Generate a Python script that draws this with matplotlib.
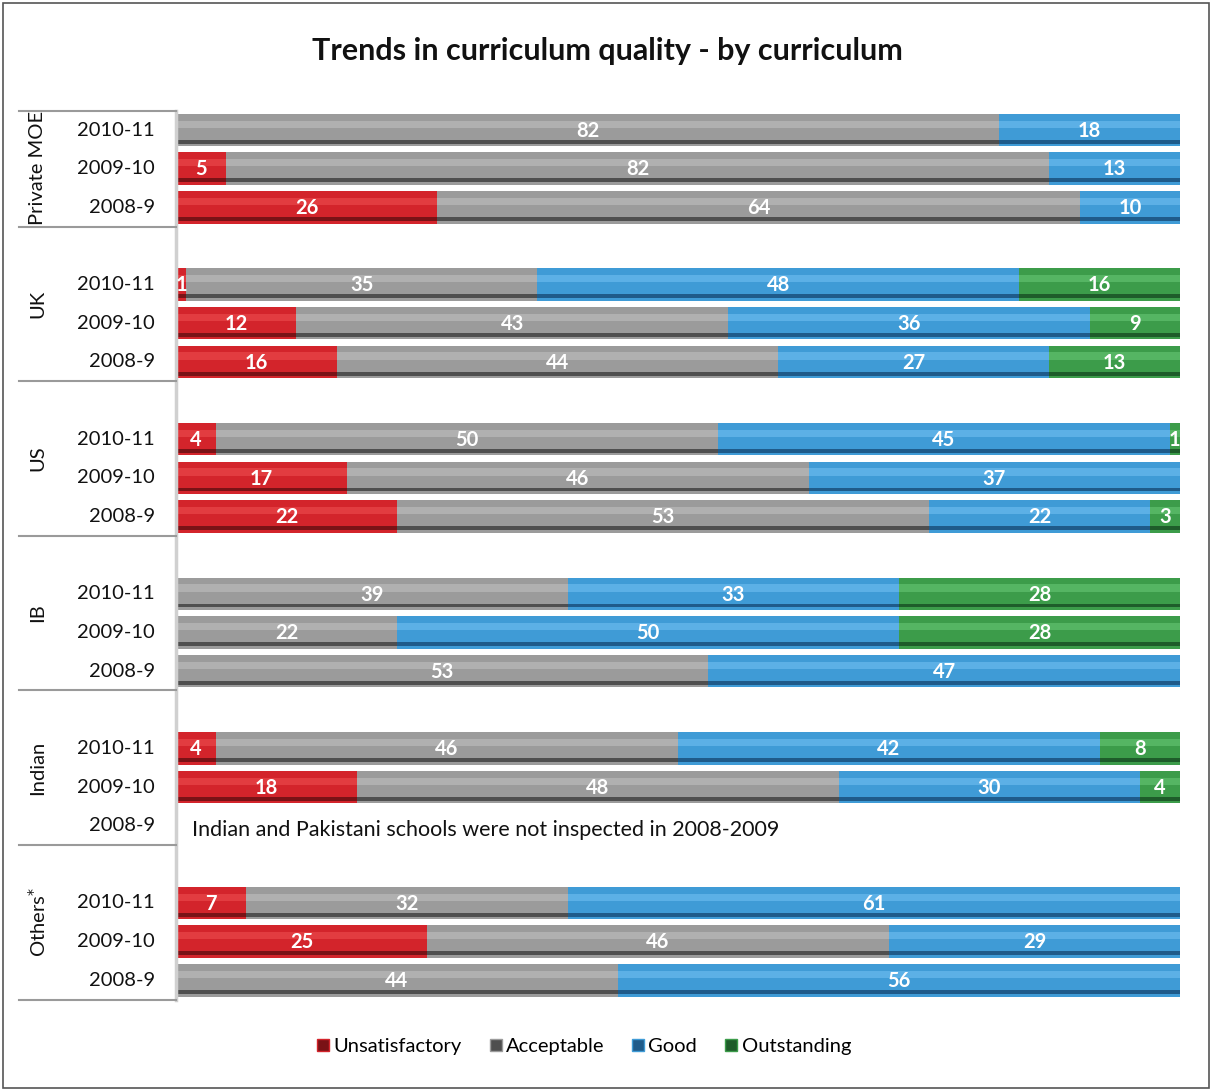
import matplotlib
matplotlib.use("Agg")
import matplotlib.pyplot as plt
from matplotlib.patches import Rectangle
from matplotlib.lines import Line2D
import numpy as np

plt.rcParams["font.family"] = ["Lato", "DejaVu Sans"]

curricula = ["Private MOE", "UK", "US", "IB", "Indian", "Others$^{*}$"]
years = ["2010-11", "2009-10", "2008-9"]
categories = ["Unsatisfactory", "Acceptable", "Good", "Outstanding"]

# rows: per curriculum, per year (2010-11, 2009-10, 2008-9); None = not inspected
unsatisfactory = [0, 5, 26, 1, 12, 16, 4, 17, 22, 0, 0, 0, 4, 18, None, 7, 25, 0]
acceptable = [82, 82, 64, 35, 43, 44, 50, 46, 53, 39, 22, 53, 46, 48, None, 32, 46, 44]
good = [18, 13, 10, 48, 36, 27, 45, 37, 22, 33, 50, 47, 42, 30, None, 61, 29, 56]
outstanding = [0, 0, 0, 16, 9, 13, 1, 0, 3, 28, 28, 0, 8, 4, None, 0, 0, 0]

note = "Indian and Pakistani schools were not inspected in 2008-2009"

base_colors = ["#d3242b", "#9b9b9b", "#3f9bd6", "#3c9c4a"]
dark_colors = ["#7a1216", "#4f4f4f", "#1f5b8a", "#1e5c2a"]
light_colors = ["#e23c40", "#b0b0b0", "#5cb0e6", "#55b563"]

W, H = 1212, 1091
fig = plt.figure(figsize=(W / 100, H / 100), dpi=100)

row_px = 38.65
y0_px = 130
ylim_top, ylim_bot = -0.8, 22.6
top = 1 - (y0_px + row_px * ylim_top) / H
bot = 1 - (y0_px + row_px * ylim_bot) / H
ax = fig.add_axes([176 / W, bot, 1004 / W, top - bot])
ax.set_xlim(0, 100)
ax.set_ylim(ylim_bot, ylim_top)
ax.axis("off")

series = [unsatisfactory, acceptable, good, outstanding]
bh = 0.84
ypos = []
for g in range(len(curricula)):
    for r in range(len(years)):
        ypos.append(g * 4 + r)

for i, y in enumerate(ypos):
    if series[0][i] is None:
        ax.text(1.6, y + 0.1, note, ha="left", va="center", fontsize=15.5, color="#111111")
        continue
    left = 0
    for k, s in enumerate(series):
        v = s[i]
        if v <= 0:
            continue
        ax.barh(y, v, left=left, height=bh, color=base_colors[k], lw=0)
        ax.barh(y - bh * 0.18, v, left=left, height=bh * 0.22, color=light_colors[k], lw=0)
        ax.barh(y + bh * 0.36, v, left=left, height=bh * 0.12, color=dark_colors[k], lw=0)
        ax.text(left + v / 2, y + 0.02, str(v), ha="center", va="center",
                fontsize=14.5, fontweight="bold", color="white")
        left += v

# faint axis line at the left of the bars
ax.plot([0, 0], [-0.5, 22.5], color="#d0d0d0", lw=2.5, clip_on=False)

# row and group labels
for i, y in enumerate(ypos):
    ax.text(-2.1, y, years[i % 3], ha="right", va="center", fontsize=14.5, color="#111111")
for g, name in enumerate(curricula):
    yc = g * 4 + (0.97 if g == 0 else 0.5)
    ax.text(-13.8, yc, name, ha="center", va="center", rotation=90,
            fontsize=14.5, color="#111111")
for b in [-0.5] + [g * 4 + 2.5 for g in range(len(curricula))]:
    ax.plot([-15.6, 0], [b, b], color="#9a9a9a", lw=1.5, clip_on=False)

fig.text(607 / W, 1 - 51 / H, "Trends in curriculum quality - by curriculum",
         ha="center", va="center", fontsize=22, fontweight="bold", color="#111111")

handles = [Line2D([], [], ls="none", marker="s", markersize=9,
                  markerfacecolor=dark_colors[k], markeredgecolor=base_colors[k])
           for k in range(len(categories))]
fig.legend(handles, categories, loc="center", bbox_to_anchor=(583 / W, 1 - 1046 / H),
           ncol=4, frameon=False, fontsize=14.5, handletextpad=0.1, columnspacing=1.3,
           handlelength=0.8)

fig.patches.append(Rectangle((3 / W, 3 / H), 1206 / W, 1085 / H, transform=fig.transFigure,
                             fill=False, edgecolor="#555555", lw=1.2))

fig.savefig("out.png", dpi=100, facecolor="white")
